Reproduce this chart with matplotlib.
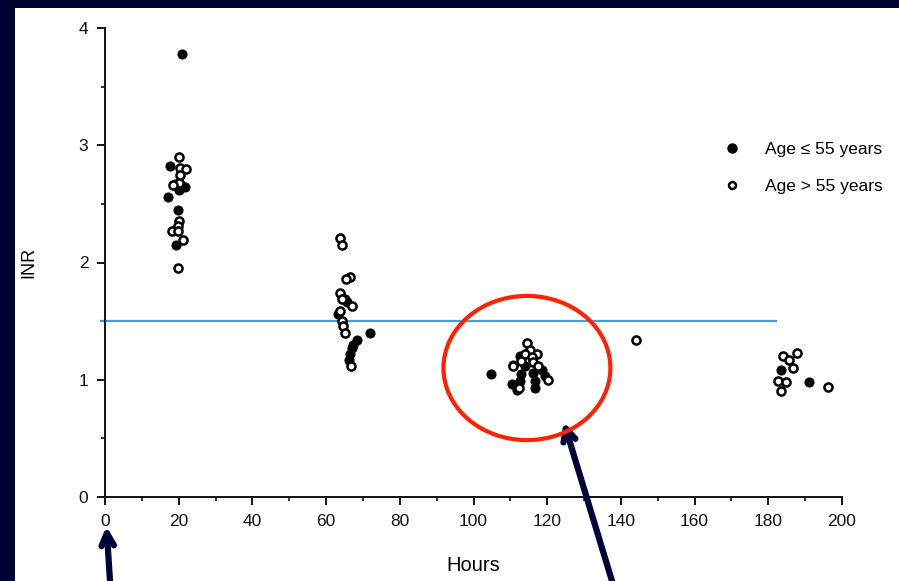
import matplotlib.pyplot as plt
from matplotlib.patches import Ellipse, Rectangle
from matplotlib.lines import Line2D
from matplotlib.ticker import MultipleLocator

plt.rcParams["font.family"] = ["Liberation Sans", "DejaVu Sans"]

# INR readings, age <= 55 (filled) and age > 55 (open)
young_hours = [20.8, 17.6, 19.0, 20.5, 21.8, 20.0, 17.2, 19.9, 19.2,
               65.1, 65.6, 63.2, 71.9, 68.3, 67.4, 66.9, 66.5, 66.3,
               104.7, 112.6, 114.0, 118.5, 116.2, 113.0, 119.4, 112.6, 116.7,
               110.4, 116.7, 111.7, 110.8,
               183.5, 191.1]
young_inr = [3.78, 2.82, 2.67, 2.66, 2.64, 2.62, 2.56, 2.45, 2.15,
             1.69, 1.66, 1.56, 1.40, 1.34, 1.30, 1.27, 1.22, 1.17,
             1.05, 1.20, 1.12, 1.08, 1.06, 1.05, 1.03, 0.99, 0.99,
             0.96, 0.93, 0.91, 1.13,
             1.08, 0.98]

old_hours = [20.2, 20.4, 22.0, 20.4, 20.2, 18.5, 20.0, 19.7, 18.1, 19.9,
             21.3, 19.7,
             63.8, 64.2, 66.5, 65.4, 63.8, 64.2, 66.9, 63.8, 64.2, 64.7,
             65.1, 66.7,
             114.6, 115.2, 114.0, 117.1, 115.8, 110.8, 113.0, 116.2, 117.6,
             120.1, 112.4,
             144.1, 187.7, 184.1, 185.7, 186.8, 182.7, 184.8, 196.3, 183.5]
old_inr = [2.90, 2.81, 2.80, 2.75, 2.68, 2.66, 2.35, 2.31, 2.27, 2.27,
           2.19, 1.95,
           2.21, 2.15, 1.88, 1.86, 1.74, 1.69, 1.63, 1.59, 1.50, 1.46,
           1.40, 1.12,
           1.31, 1.25, 1.22, 1.22, 1.19, 1.12, 1.16, 1.15, 1.12,
           1.00, 0.93,
           1.34, 1.23, 1.20, 1.17, 1.10, 0.99, 0.98, 0.94, 0.90]

threshold = 1.5
legend_labels = ["Age \u2264 55 years", "Age > 55 years"]

navy = "#000033"

fig = plt.figure(figsize=(8.99, 5.81), dpi=100, facecolor=navy)
fig.patches.append(Rectangle((15 / 899, 0), 1 - 15 / 899, 1 - 8 / 581,
                             transform=fig.transFigure, facecolor="white",
                             edgecolor="none", zorder=-10))

ax = fig.add_axes([105 / 899, 84 / 581, 737 / 899, 469 / 581])
ax.set_facecolor("none")

ax.scatter(young_hours, young_inr, s=42, c="black", edgecolors="black",
           linewidths=0.8, zorder=3)
ax.scatter(old_hours, old_inr, s=34, c="white", edgecolors="black",
           linewidths=1.8, zorder=4)

ax.plot([-1, 182], [threshold, threshold], color="#3a9ff0", lw=1.6, zorder=2,
        clip_on=False)

ax.set_xlim(0, 200)
ax.set_ylim(0, 4)
ax.xaxis.set_major_locator(MultipleLocator(20))
ax.xaxis.set_minor_locator(MultipleLocator(10))
ax.yaxis.set_major_locator(MultipleLocator(1))
ax.yaxis.set_minor_locator(MultipleLocator(0.5))

for side in ("top", "right"):
    ax.spines[side].set_visible(False)
for side in ("left", "bottom"):
    ax.spines[side].set_linewidth(1.4)
    ax.spines[side].set_color("#111111")

ax.tick_params(which="major", length=6, width=1.4, labelsize=12.5,
               colors="#111111")
ax.tick_params(which="minor", length=3, width=1.2, colors="#111111")
ax.tick_params(axis="x", which="major", pad=6)
ax.tick_params(axis="y", which="major", pad=6)

ax.set_xlabel("Hours", fontsize=14.5, labelpad=20)
ax.set_ylabel("INR", fontsize=13, labelpad=30)

handles = [
    Line2D([], [], ls="none", marker="o", ms=6.5, mfc="black", mec="black"),
    Line2D([], [], ls="none", marker="o", ms=5, mfc="white", mec="black",
           mew=1.8),
]
ax.legend(handles, legend_labels, loc="upper left",
          bbox_to_anchor=(0.8055, 0.79), frameon=False, fontsize=12.5,
          handletextpad=0.9, labelspacing=1.25)

# red ring around the 100-135 h cluster
ax.add_patch(Ellipse((114.5, 1.10), 45.3, 1.23, fill=False,
                     edgecolor="#ff2200", lw=3, zorder=5))

# pointer arrows
arrow_kw = dict(arrowstyle="->,head_length=0.9,head_width=0.45",
                color="#02023a", lw=4.5, shrinkA=0, shrinkB=0)
ax.annotate("", xy=(0.4, -0.25), xytext=(110 / 899, 0),
            textcoords="figure fraction", arrowprops=arrow_kw,
            annotation_clip=False)
ax.annotate("", xy=(124.5, 0.64), xytext=(612 / 899, 0),
            textcoords="figure fraction", arrowprops=arrow_kw,
            annotation_clip=False)

fig.savefig("out.png", dpi=100, facecolor=navy)
